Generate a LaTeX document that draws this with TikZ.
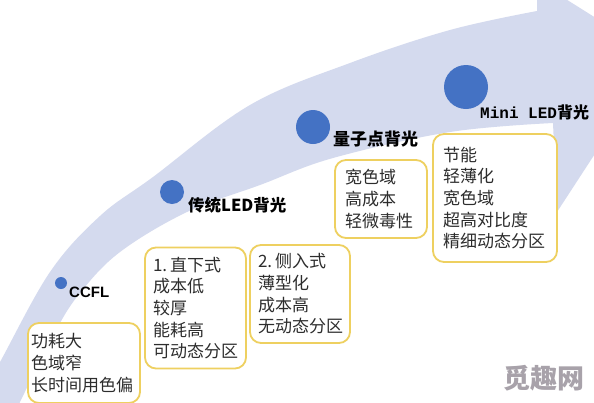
\documentclass[tikz,border=0pt]{standalone}
\usepackage{fontspec}
\newfontfamily\cjk{Noto Sans CJK SC}
\newfontfamily\lsans{Liberation Sans}
\newfontfamily\lmono{Liberation Mono}
\definecolor{bandc}{RGB}{212,218,238}
\definecolor{dotc}{RGB}{68,114,196}
\definecolor{boxc}{RGB}{238,208,96}
\definecolor{txtc}{RGB}{45,45,45}
\definecolor{wmc}{RGB}{168,162,170}
\tikzset{
  stagedot/.style={circle, fill=dotc, inner sep=0pt},
  stagelab/.style={anchor=west, inner sep=0pt, text=black, font=\cjk\bfseries\fontsize{16.5}{18}\selectfont},
  infobox/.style={draw=boxc, line width=1.8pt, rounded corners=11pt, fill=white, align=left,
    inner ysep=0pt, text=txtc, font=\cjk\fontsize{17}{21.7}\selectfont},
}
\begin{document}
\begin{tikzpicture}[x=1pt,y=-1pt]
\useasboundingbox (0,0) rectangle (594,402);
\fill[white] (0,0) rectangle (594,402);
% curved arrow band
\fill[bandc] plot[smooth,tension=0.6] coordinates {(-14,385) (0,362) (50,272) (100,216) (153,177) (250,105) (350,63) (450,30) (537,11)}
  -- (537,-19) -- (658,57) -- (557,212) -- (553,123)
  -- plot[smooth,tension=0.6] coordinates {(553,123) (450,132) (333,158) (260,185) (187,212) (120,252) (80,293) (55,332) (20,402) (12,420)}
  -- cycle;
% stage dots
\node[stagedot, minimum size=12pt] (d1) at (61,283) {};
\node[stagedot, minimum size=24pt] (d2) at (172,192) {};
\node[stagedot, minimum size=34pt] (d3) at (313,127) {};
\node[stagedot, minimum size=44pt] (d4) at (466,87) {};
% stage labels
\node[anchor=west, inner sep=0pt, text=black, font={\fontsize{15}{16}\selectfont\lsans\bfseries}] (l1) at (69,292) {CCFL};
\node[stagelab] (l2) at (188,205) {传统LED背光};
\node[stagelab, font=\cjk\bfseries\fontsize{17}{18}\selectfont] (l3) at (333,139) {量子点背光};
\node[stagelab, font=\cjk\bfseries\fontsize{16}{18}\selectfont] (l4) at (480,112) {{\lmono\bfseries Mini LED}背光};
% info boxes
\node[infobox, minimum height=80pt, text width=106pt, inner xsep=3pt] (b1) at (84,363) {功耗大\\色域窄\\长时间用色偏};
\node[infobox, minimum height=121pt, text width=85pt, inner xsep=8pt] (b2) at (195.5,308) {1.\hspace{3pt}直下式\\成本低\\较厚\\能耗高\\可动态分区};
\node[infobox, minimum height=98pt, text width=84pt, inner xsep=8pt] (b3) at (300,294) {2.\hspace{3pt}侧入式\\薄型化\\成本高\\无动态分区};
\node[infobox, minimum height=78pt, text width=72pt, inner xsep=10pt] (b4) at (381,199) {宽色域\\高成本\\轻微毒性};
\node[infobox, minimum height=128pt, text width=104pt, inner xsep=10pt] (b5) at (495,198) {节能\\轻薄化\\宽色域\\超高对比度\\精细动态分区};
% watermark
\node[anchor=west, inner sep=0pt, text=wmc, font=\cjk\bfseries\fontsize{27}{28}\selectfont] (wm) at (503,378) {觅趣网};
\end{tikzpicture}
\end{document}
